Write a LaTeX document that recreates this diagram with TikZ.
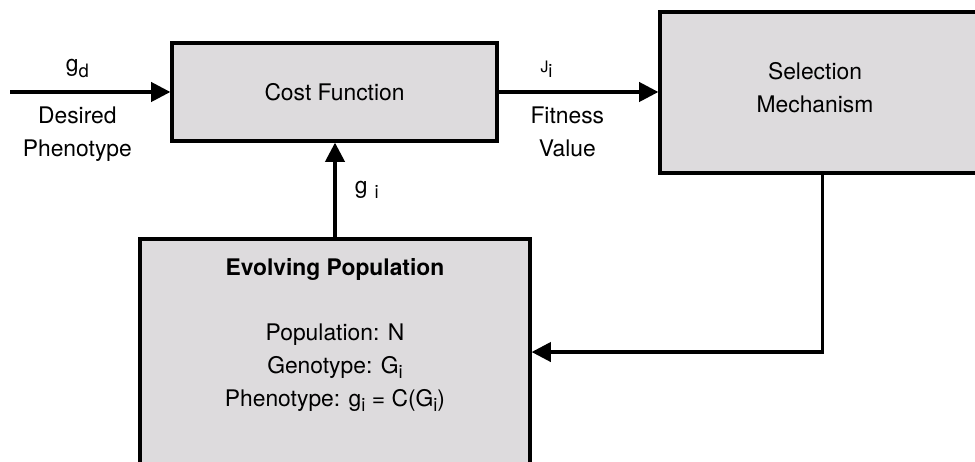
\documentclass[tikz,border=0pt]{standalone}
\usepackage{fontspec}
\setsansfont{TeX Gyre Heros}
\definecolor{boxgray}{RGB}{221,219,221}
\tikzset{every picture/.style={/utils/exec={\sffamily}}}
\usetikzlibrary{positioning}
\usetikzlibrary{arrows.meta}
\newcommand{\lowsub}[1]{\raisebox{-0.45ex}{\fontsize{10.5}{10.5}\selectfont #1}}

\begin{document}
\begin{tikzpicture}[x=0.02cm, y=-0.02cm, line width=1.9pt,
    font=\fontsize{13}{18.7}\selectfont,
    block/.style={draw, fill=boxgray, rectangle, align=center},
    flow/.style={-{Triangle[length=11pt,width=11pt]}}]
  \clip (0,0) rectangle (975,462);

    \node[block, minimum width=6.5cm, minimum height=1.96cm] (cost) at (334.5,92) {Cost Function};
    \node[block, minimum width=6.5cm, minimum height=3.22cm] (sel) at (822.5,92.5) {};
    \node[align=center] (seltext) at (815,88) {Selection\\Mechanism};
    \node[block, minimum width=7.8cm, minimum height=5.02cm] (evo) at (335,364.5) {};
    \node[below=8pt of evo.north] (evotitle) {\bfseries Evolving Population};
    \node[below=16pt of evotitle, align=center] (evotext) {Population: N\\Genotype: G\lowsub{i}\\Phenotype: g\lowsub{i} = C(G\lowsub{i})};

    \coordinate (in) at (10,92);

    \draw [flow] (in) -- node[above=4pt, pos=0.42] (gd) {g\lowsub{d}} node[below=4pt, pos=0.42, align=center] (desired) {Desired\\Phenotype} (cost.west);

    \draw [flow] (cost.east) -- node[above=4pt, pos=0.3] (ji) {{\fontsize{9}{9}\selectfont J}\lowsub{i}} node[below=4pt, pos=0.43, align=center] (fitness) {Fitness\\Value} (cost.east -| sel.west);

    \draw [flow] (evo.north) -- node[right=7pt] (gi) {g\hspace{4pt}\lowsub{i}} (evo.north |- cost.south);

    \draw [flow] (sel.south) |- ([yshift=7.1pt]evo.east);
\end{tikzpicture}
\end{document}
